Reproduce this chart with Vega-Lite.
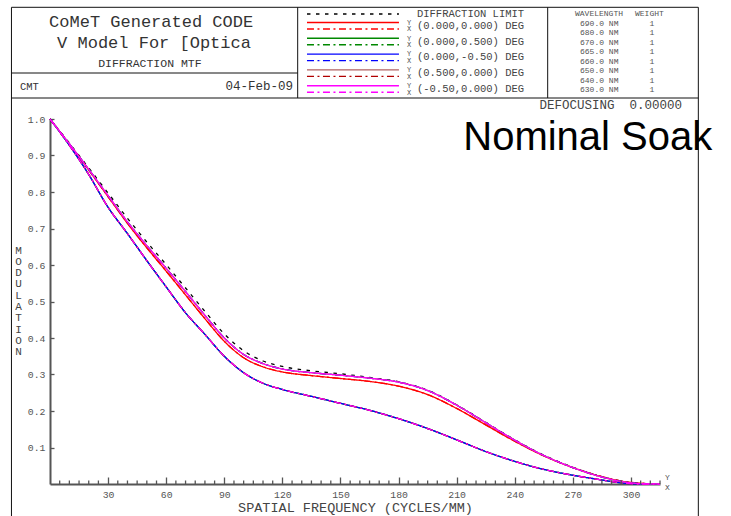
{
  "$schema": "https://vega.github.io/schema/vega-lite/v6.json",
  "width": 610,
  "height": 365,
  "autosize": {"type": "none"},
  "padding": {"left": 50, "top": 119, "right": 71, "bottom": 32},
  "background": "white",
  "config": {"view": {"stroke": null}, "font": "Liberation Mono", "legend": {"disable": true}},
  "data": {"values": [
    {"f": 0, "dl": 1.0, "up": 1.0, "red": 1.0, "low": 1.0},
    {"f": 10, "dl": 0.934, "up": 0.932, "red": 0.931, "low": 0.928},
    {"f": 20, "dl": 0.866, "up": 0.862, "red": 0.860, "low": 0.848},
    {"f": 30, "dl": 0.797, "up": 0.790, "red": 0.787, "low": 0.758},
    {"f": 40, "dl": 0.728, "up": 0.718, "red": 0.714, "low": 0.686},
    {"f": 50, "dl": 0.663, "up": 0.653, "red": 0.647, "low": 0.612},
    {"f": 60, "dl": 0.601, "up": 0.591, "red": 0.583, "low": 0.540},
    {"f": 70, "dl": 0.537, "up": 0.527, "red": 0.518, "low": 0.469},
    {"f": 80, "dl": 0.473, "up": 0.462, "red": 0.453, "low": 0.410},
    {"f": 90, "dl": 0.411, "up": 0.400, "red": 0.391, "low": 0.350},
    {"f": 100, "dl": 0.365, "up": 0.355, "red": 0.346, "low": 0.305},
    {"f": 110, "dl": 0.337, "up": 0.330, "red": 0.321, "low": 0.276},
    {"f": 120, "dl": 0.322, "up": 0.315, "red": 0.307, "low": 0.259},
    {"f": 135, "dl": 0.310, "up": 0.305, "red": 0.297, "low": 0.240},
    {"f": 150, "dl": 0.302, "up": 0.298, "red": 0.289, "low": 0.221},
    {"f": 165, "dl": 0.292, "up": 0.290, "red": 0.281, "low": 0.202},
    {"f": 180, "dl": 0.280, "up": 0.279, "red": 0.268, "low": 0.179},
    {"f": 195, "dl": 0.257, "up": 0.256, "red": 0.245, "low": 0.152},
    {"f": 210, "dl": 0.217, "up": 0.216, "red": 0.207, "low": 0.121},
    {"f": 225, "dl": 0.169, "up": 0.168, "red": 0.162, "low": 0.089},
    {"f": 240, "dl": 0.121, "up": 0.120, "red": 0.117, "low": 0.062},
    {"f": 255, "dl": 0.079, "up": 0.078, "red": 0.077, "low": 0.040},
    {"f": 270, "dl": 0.046, "up": 0.045, "red": 0.045, "low": 0.024},
    {"f": 285, "dl": 0.020, "up": 0.019, "red": 0.020, "low": 0.011},
    {"f": 295, "dl": 0.008, "up": 0.007, "red": 0.008, "low": 0.003},
    {"f": 305, "dl": 0.002, "up": 0.001, "red": 0.002, "low": 0.0},
    {"f": 315, "dl": 0.0, "up": 0.0, "red": 0.0, "low": 0.0}
  ]},
  "layer": [
    {
      "mark": {"type": "line", "interpolate": "monotone", "strokeWidth": 1.3},
      "encoding": {
        "x": {"field": "f", "type": "quantitative",
          "scale": {"domain": [0, 315], "nice": false, "zero": false},
          "axis": {"values": [30, 60, 90, 120, 150, 180, 210, 240, 270, 300], "grid": false,
            "tickSize": -7, "tickColor": "#555", "tickWidth": 1.3,
            "domainColor": "#555", "domainWidth": 2,
            "labelFont": "Liberation Mono", "labelFontSize": 9.8, "labelColor": "#555", "labelPadding": 12,
            "title": "SPATIAL FREQUENCY (CYCLES/MM)", "titleFont": "Liberation Mono", "titleFontSize": 13.5,
            "titleFontWeight": "normal", "titleColor": "#444", "titleY": 27, "titleBaseline": "alphabetic"}},
        "y": {"field": "dl", "type": "quantitative",
          "scale": {"domain": [0, 1], "nice": false, "zero": false},
          "axis": {"values": [0.1, 0.2, 0.3, 0.4, 0.5, 0.6, 0.7, 0.8, 0.9, 1.0], "format": ".1f", "grid": false,
            "tickSize": -4, "tickColor": "#555", "tickWidth": 1.3,
            "domainColor": "#555", "domainWidth": 2,
            "labelFont": "Liberation Mono", "labelFontSize": 9.8, "labelColor": "#555", "labelPadding": 9,
            "title": ["M", "O", "D", "U", "L", "A", "T", "I", "O", "N"], "titleFont": "Liberation Mono",
            "titleFontSize": 11, "titleFontWeight": "normal", "titleColor": "#444", "titleAngle": 0,
            "titleX": -32, "titleY": 131, "titleAlign": "center", "titleBaseline": "middle", "titleLineHeight": 11.3}},
        "color": {"datum": "dl", "type": "nominal",
          "scale": {"domain": ["dl", "f1y", "f1x", "f2y", "f2x", "f3y", "f3x", "f4y", "f4x", "f5y", "f5x"],
            "range": ["#000000", "#ff0000", "#ff0000", "#008800", "#008800", "#0000ff", "#0000ff", "#b06060", "#b00000", "#ff00ff", "#ff00ff"]}},
        "strokeDash": {"datum": "dash", "type": "nominal",
          "scale": {"domain": ["solid", "dd", "dash"], "range": [[1, 0], [7, 3.5, 2, 3.5], [3.5, 5.5]]}}
      }
    },
    {"mark": {"type": "line", "interpolate": "monotone", "strokeWidth": 1.3},
     "encoding": {"x": {"field": "f", "type": "quantitative"}, "y": {"field": "red", "type": "quantitative"},
       "color": {"datum": "f1y", "type": "nominal"}, "strokeDash": {"datum": "solid", "type": "nominal"}}},
    {"mark": {"type": "line", "interpolate": "monotone", "strokeWidth": 1.3},
     "encoding": {"x": {"field": "f", "type": "quantitative"}, "y": {"field": "red", "type": "quantitative"},
       "color": {"datum": "f1x", "type": "nominal"}, "strokeDash": {"datum": "dd", "type": "nominal"}}},
    {"mark": {"type": "line", "interpolate": "monotone", "strokeWidth": 1.3},
     "encoding": {"x": {"field": "f", "type": "quantitative"}, "y": {"field": "low", "type": "quantitative"},
       "color": {"datum": "f2y", "type": "nominal"}, "strokeDash": {"datum": "solid", "type": "nominal"}}},
    {"mark": {"type": "line", "interpolate": "monotone", "strokeWidth": 1.3},
     "encoding": {"x": {"field": "f", "type": "quantitative"}, "y": {"field": "up", "type": "quantitative"},
       "color": {"datum": "f2x", "type": "nominal"}, "strokeDash": {"datum": "dd", "type": "nominal"}}},
    {"mark": {"type": "line", "interpolate": "monotone", "strokeWidth": 1.3},
     "encoding": {"x": {"field": "f", "type": "quantitative"}, "y": {"field": "low", "type": "quantitative"},
       "color": {"datum": "f3y", "type": "nominal"}, "strokeDash": {"datum": "solid", "type": "nominal"}}},
    {"mark": {"type": "line", "interpolate": "monotone", "strokeWidth": 1.3},
     "encoding": {"x": {"field": "f", "type": "quantitative"}, "y": {"field": "up", "type": "quantitative"},
       "color": {"datum": "f3x", "type": "nominal"}, "strokeDash": {"datum": "dd", "type": "nominal"}}},
    {"mark": {"type": "line", "interpolate": "monotone", "strokeWidth": 1.3},
     "encoding": {"x": {"field": "f", "type": "quantitative"}, "y": {"field": "up", "type": "quantitative"},
       "color": {"datum": "f4y", "type": "nominal"}, "strokeDash": {"datum": "solid", "type": "nominal"}}},
    {"mark": {"type": "line", "interpolate": "monotone", "strokeWidth": 1.3},
     "encoding": {"x": {"field": "f", "type": "quantitative"}, "y": {"field": "low", "type": "quantitative"},
       "color": {"datum": "f4x", "type": "nominal"}, "strokeDash": {"datum": "dd", "type": "nominal"}}},
    {"mark": {"type": "line", "interpolate": "monotone", "strokeWidth": 1.3},
     "encoding": {"x": {"field": "f", "type": "quantitative"}, "y": {"field": "up", "type": "quantitative"},
       "color": {"datum": "f5y", "type": "nominal"}, "strokeDash": {"datum": "solid", "type": "nominal"}}},
    {"mark": {"type": "line", "interpolate": "monotone", "strokeWidth": 1.3},
     "encoding": {"x": {"field": "f", "type": "quantitative"}, "y": {"field": "low", "type": "quantitative"},
       "color": {"datum": "f5x", "type": "nominal"}, "strokeDash": {"datum": "dd", "type": "nominal"}}},
    {"data": {"values": [
      {"x": 5}, {"x": 10}, {"x": 15}, {"x": 20}, {"x": 25}, {"x": 35}, {"x": 40}, {"x": 45}, {"x": 50}, {"x": 55},
      {"x": 65}, {"x": 70}, {"x": 75}, {"x": 80}, {"x": 85}, {"x": 95}, {"x": 100}, {"x": 105}, {"x": 110}, {"x": 115},
      {"x": 125}, {"x": 130}, {"x": 135}, {"x": 140}, {"x": 145}, {"x": 155}, {"x": 160}, {"x": 165}, {"x": 170}, {"x": 175},
      {"x": 185}, {"x": 190}, {"x": 195}, {"x": 200}, {"x": 205}, {"x": 215}, {"x": 220}, {"x": 225}, {"x": 230}, {"x": 235},
      {"x": 245}, {"x": 250}, {"x": 255}, {"x": 260}, {"x": 265}, {"x": 275}, {"x": 280}, {"x": 285}, {"x": 290}, {"x": 295},
      {"x": 305}, {"x": 310}, {"x": 315}
     ]},
     "mark": {"type": "rule", "color": "#555", "strokeWidth": 1.3},
     "encoding": {"x": {"field": "x", "type": "quantitative"}, "y": {"datum": 0}, "y2": {"datum": 0.0096}}},
    {"data": {"values": [
      {"x": -19.9, "x2": 334.8, "y": 1.306},
      {"x": -19.9, "x2": 127.9, "y": 1.126},
      {"x": -19.9, "x2": 334.8, "y": 1.0575}
     ]},
     "mark": {"type": "rule", "color": "#111", "strokeWidth": 1},
     "encoding": {"x": {"field": "x", "type": "quantitative"}, "x2": {"field": "x2"}, "y": {"field": "y", "type": "quantitative"}}},
    {"data": {"values": [
      {"x": -19.9, "y": 1.306, "y2": -0.09},
      {"x": 334.8, "y": 1.306, "y2": -0.09},
      {"x": 127.9, "y": 1.306, "y2": 1.0575},
      {"x": 257.0, "y": 1.306, "y2": 1.0575}
     ]},
     "mark": {"type": "rule", "color": "#111", "strokeWidth": 1},
     "encoding": {"x": {"field": "x", "type": "quantitative"}, "y": {"field": "y", "type": "quantitative"}, "y2": {"field": "y2"}}},
    {"data": {"values": [
      {"key": "dl", "kind": "dash", "x": 132.7, "x2": 180.2, "y": 1.2877},
      {"key": "f1y", "kind": "solid", "x": 132.7, "x2": 180.2, "y": 1.2644},
      {"key": "f1x", "kind": "dd", "x": 132.7, "x2": 180.2, "y": 1.2466},
      {"key": "f2y", "kind": "solid", "x": 132.7, "x2": 180.2, "y": 1.2211},
      {"key": "f2x", "kind": "dd", "x": 132.7, "x2": 180.2, "y": 1.2033},
      {"key": "f3y", "kind": "solid", "x": 132.7, "x2": 180.2, "y": 1.1778},
      {"key": "f3x", "kind": "dd", "x": 132.7, "x2": 180.2, "y": 1.1600},
      {"key": "f4y", "kind": "solid", "x": 132.7, "x2": 180.2, "y": 1.1345},
      {"key": "f4x", "kind": "dd", "x": 132.7, "x2": 180.2, "y": 1.1167},
      {"key": "f5y", "kind": "solid", "x": 132.7, "x2": 180.2, "y": 1.0912},
      {"key": "f5x", "kind": "dd", "x": 132.7, "x2": 180.2, "y": 1.0734}
     ]},
     "mark": {"type": "rule", "strokeWidth": 1.4},
     "encoding": {"x": {"field": "x", "type": "quantitative"}, "x2": {"field": "x2"}, "y": {"field": "y", "type": "quantitative"},
       "color": {"field": "key", "type": "nominal"}, "strokeDash": {"field": "kind", "type": "nominal"}}},
    {"data": {"values": [
      {"x": 52.2, "y": 1.2512, "t": "CoMeT Generated CODE"},
      {"x": 53.7, "y": 1.1937, "t": "V Model For [Optica"}
     ]},
     "mark": {"type": "text", "font": "Liberation Mono", "fontSize": 17, "align": "center", "baseline": "alphabetic", "color": "#333"},
     "encoding": {"x": {"field": "x", "type": "quantitative"}, "y": {"field": "y", "type": "quantitative"}, "text": {"field": "t"}}},
    {"data": {"values": [{"x": 51.6, "y": 1.1438, "t": "DIFFRACTION MTF"}]},
     "mark": {"type": "text", "font": "Liberation Mono", "fontSize": 11.5, "align": "center", "baseline": "alphabetic", "color": "#333"},
     "encoding": {"x": {"field": "x", "type": "quantitative"}, "y": {"field": "y", "type": "quantitative"}, "text": {"field": "t"}}},
    {"data": {"values": [{"x": -15.5, "y": 1.0781, "t": "CMT"}]},
     "mark": {"type": "text", "font": "Liberation Mono", "fontSize": 10.5, "align": "left", "baseline": "alphabetic", "color": "#333"},
     "encoding": {"x": {"field": "x", "type": "quantitative"}, "y": {"field": "y", "type": "quantitative"}, "text": {"field": "t"}}},
    {"data": {"values": [{"x": 125.5, "y": 1.0781, "t": "04-Feb-09"}]},
     "mark": {"type": "text", "font": "Liberation Mono", "fontSize": 12.5, "align": "right", "baseline": "alphabetic", "color": "#333"},
     "encoding": {"x": {"field": "x", "type": "quantitative"}, "y": {"field": "y", "type": "quantitative"}, "text": {"field": "t"}}},
    {"data": {"values": [
      {"x": 189.5, "y": 1.2877, "t": "DIFFRACTION LIMIT"},
      {"x": 189.5, "y": 1.2553, "t": "(0.000,0.000) DEG"},
      {"x": 189.5, "y": 1.2121, "t": "(0.000,0.500) DEG"},
      {"x": 189.5, "y": 1.1688, "t": "(0.000,-0.50) DEG"},
      {"x": 189.5, "y": 1.1255, "t": "(0.500,0.000) DEG"},
      {"x": 189.5, "y": 1.0822, "t": "(-0.50,0.000) DEG"}
     ]},
     "mark": {"type": "text", "font": "Liberation Mono", "fontSize": 10.5, "align": "left", "baseline": "middle", "color": "#444"},
     "encoding": {"x": {"field": "x", "type": "quantitative"}, "y": {"field": "y", "type": "quantitative"}, "text": {"field": "t"}}},
    {"data": {"values": [
      {"x": 184.3, "y": 1.2636, "t": "Y"}, {"x": 184.3, "y": 1.2458, "t": "X"},
      {"x": 184.3, "y": 1.2203, "t": "Y"}, {"x": 184.3, "y": 1.2025, "t": "X"},
      {"x": 184.3, "y": 1.1773, "t": "Y"}, {"x": 184.3, "y": 1.1592, "t": "X"},
      {"x": 184.3, "y": 1.1337, "t": "Y"}, {"x": 184.3, "y": 1.1159, "t": "X"},
      {"x": 184.3, "y": 1.0904, "t": "Y"}, {"x": 184.3, "y": 1.0726, "t": "X"}
     ]},
     "mark": {"type": "text", "font": "Liberation Mono", "fontSize": 7, "align": "left", "baseline": "middle", "color": "#555"},
     "encoding": {"x": {"field": "x", "type": "quantitative"}, "y": {"field": "y", "type": "quantitative"}, "text": {"field": "t"}}},
    {"data": {"values": [
      {"x": 271.1, "y": 1.2877, "t": "WAVELENGTH"}, {"x": 302.1, "y": 1.2877, "t": "WEIGHT"},
      {"x": 273.7, "y": 1.2603, "t": "690.0 NM"}, {"x": 309.6, "y": 1.2603, "t": "1"},
      {"x": 273.7, "y": 1.2348, "t": "680.0 NM"}, {"x": 309.6, "y": 1.2348, "t": "1"},
      {"x": 273.7, "y": 1.2077, "t": "670.0 NM"}, {"x": 309.6, "y": 1.2077, "t": "1"},
      {"x": 273.7, "y": 1.1827, "t": "665.0 NM"}, {"x": 309.6, "y": 1.1827, "t": "1"},
      {"x": 273.7, "y": 1.1553, "t": "660.0 NM"}, {"x": 309.6, "y": 1.1553, "t": "1"},
      {"x": 273.7, "y": 1.1307, "t": "650.0 NM"}, {"x": 309.6, "y": 1.1307, "t": "1"},
      {"x": 273.7, "y": 1.1049, "t": "640.0 NM"}, {"x": 309.6, "y": 1.1049, "t": "1"},
      {"x": 273.7, "y": 1.0795, "t": "630.0 NM"}, {"x": 309.6, "y": 1.0795, "t": "1"}
     ]},
     "mark": {"type": "text", "font": "Liberation Mono", "fontSize": 8, "align": "left", "baseline": "middle", "color": "#555"},
     "encoding": {"x": {"field": "x", "type": "quantitative"}, "y": {"field": "y", "type": "quantitative"}, "text": {"field": "t"}}},
    {"data": {"values": [{"x": 326.4, "y": 1.0275, "t": "DEFOCUSING\u00a0\u00a00.00000"}]},
     "mark": {"type": "text", "font": "Liberation Mono", "fontSize": 12.5, "align": "right", "baseline": "alphabetic", "color": "#444"},
     "encoding": {"x": {"field": "x", "type": "quantitative"}, "y": {"field": "y", "type": "quantitative"}, "text": {"field": "t"}}},
    {"data": {"values": [{"x": 213.4, "y": 0.9145, "t": "Nominal Soak"}]},
     "mark": {"type": "text", "font": "Liberation Sans", "fontSize": 40, "align": "left", "baseline": "alphabetic", "color": "#000"},
     "encoding": {"x": {"field": "x", "type": "quantitative"}, "y": {"field": "y", "type": "quantitative"}, "text": {"field": "t"}}},
    {"data": {"values": [{"x": 317.6, "y": 0.0156, "t": "Y"}, {"x": 317.6, "y": -0.0123, "t": "X"}]},
     "mark": {"type": "text", "font": "Liberation Mono", "fontSize": 8, "align": "left", "baseline": "middle", "color": "#555"},
     "encoding": {"x": {"field": "x", "type": "quantitative"}, "y": {"field": "y", "type": "quantitative"}, "text": {"field": "t"}}}
  ]
}
